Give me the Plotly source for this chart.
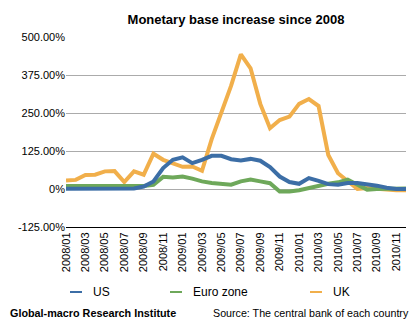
import plotly.graph_objects as go

months = [f"{y}/{m:02d}" for y in (2008, 2009, 2010) for m in range(1, 13)]

us = [1, 1, 1, 1, 1, 1, 1, 2, 8, 25, 69, 96, 104, 85, 96, 109, 109, 98,
      94, 99, 93, 72, 41, 23, 17, 36, 27, 16, 14, 20, 20, 17, 11, 4, 0, 0]
euro = [10, 10, 10, 10, 10, 10, 10, 10, 10, 14, 40, 38, 41, 34, 25, 20, 18, 14,
        25, 31, 25, 19, -8, -8, -4, 3, 12, 17, 22, 31, 14, -2, 0, 0, 0, 2]
uk = [28, 30, 46, 47, 58, 59, 23, 58, 47, 116, 96, 83, 73, 74, 60, 164, 252, 340,
      443, 397, 280, 200, 227, 238, 280, 296, 273, 112, 52, 25, 0, 3, 0, -2, -4, -4]

y_ticks = [-125, 0, 125, 250, 375, 500]
y_labels = ["-125.00%", "0%", "125.00%", "250.00%", "375.00%", "500.00%"]

series = [("US", us, "#3C6EA6"), ("Euro zone", euro, "#6EA85A"), ("UK", uk, "#F1AF4B")]

FONT = "Liberation Sans, Arial, Helvetica, sans-serif"

fig = go.Figure()
x_idx = list(range(len(months)))
# UK underneath, US on top
for name, vals, color in reversed(series):
    fig.add_trace(go.Scatter(x=x_idx, y=vals, mode="lines", name=name,
                             line=dict(color=color, width=4), showlegend=False))

fig.update_layout(
    width=418, height=327,
    margin=dict(l=66, r=12, t=37, b=100),
    paper_bgcolor="white", plot_bgcolor="white",
    font=dict(family=FONT, size=11, color="#000"),
    title=dict(text="<b>Monetary base increase since 2008</b>", x=0.5, xref="paper",
               xanchor="center", y=1 - 19 / 327, yanchor="middle", font=dict(size=13)),
)
fig.update_xaxes(
    range=[0, len(months) - 1],
    tickmode="array", tickvals=x_idx[::2], ticktext=months[::2],
    tickangle=-90, showgrid=False, zeroline=False,
    showline=True, linecolor="#000", linewidth=1, ticks="",
    tickfont=dict(size=11),
)
fig.update_yaxes(
    range=[-125, 500], tickmode="array", tickvals=y_ticks, ticktext=y_labels,
    showgrid=True, gridcolor="#ababab", gridwidth=1, zeroline=False,
    showline=False, ticks="", tickfont=dict(size=11),
)

# legend keys
legend_x = [70, 170, 310]
for (name, _, color), lx in zip(series, legend_x):
    fig.add_shape(type="line", xref="paper", yref="paper",
                  x0=(lx - 66) / 340, x1=(lx + 12 - 66) / 340,
                  y0=(227 - 292) / 190, y1=(227 - 292) / 190,
                  line=dict(color=color, width=2))
    fig.add_annotation(text=name, xref="paper", yref="paper",
                       x=(lx + 21 - 66) / 340, y=(227 - 292) / 190,
                       xanchor="left", yanchor="middle", showarrow=False,
                       font=dict(size=12))

fig.add_annotation(text="<b>Global-macro Research Institute</b>", xref="paper", yref="paper",
                   x=(8 - 66) / 340, y=(227 - 313) / 190, xanchor="left", yanchor="middle",
                   showarrow=False, font=dict(size=10.8))
fig.add_annotation(text="Source: The central bank of each country", xref="paper", yref="paper",
                   x=(411 - 66) / 340, y=(227 - 313) / 190, xanchor="right", yanchor="middle",
                   showarrow=False, font=dict(size=10.7))

fig.write_html("out.html")
